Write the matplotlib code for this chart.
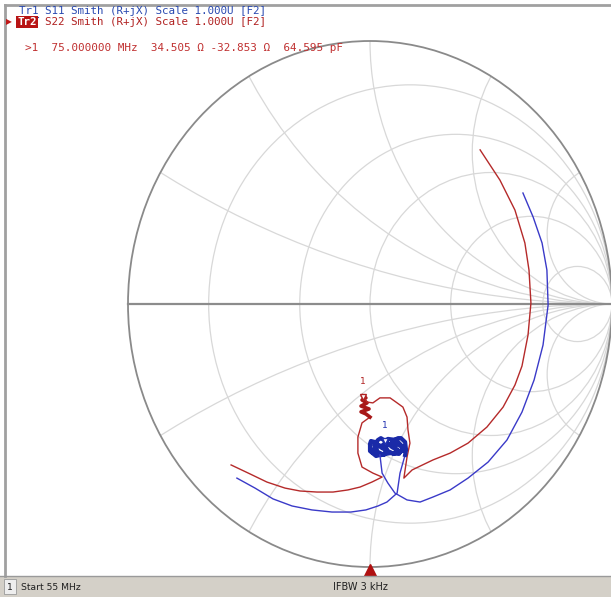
import matplotlib
matplotlib.use('Agg')
import matplotlib.pyplot as plt
from matplotlib.patches import Circle, Rectangle

# smith grid values
r_grid = [0.2, 0.55, 1, 2, 6]
x_grid = [0.268, 0.577, 1, 1.732, 3.732, -0.268, -0.577, -1, -1.732, -3.732]

# S22 trace (Tr2, red), reflection coefficient
red_re = [-0.574, -0.496, -0.426, -0.351, -0.289, -0.219, -0.153, -0.091, -0.041, 0.008, 0.050,
          0.012, -0.033, -0.050, -0.050, -0.033, 0.000]
red_im = [-0.612, -0.646, -0.677, -0.700, -0.711, -0.715, -0.715, -0.707, -0.696, -0.677, -0.658,
          -0.643, -0.620, -0.567, -0.506, -0.452, -0.430]
red_scr_re = [0.000, -0.017, -0.037, -0.004, -0.037, -0.012, -0.033, -0.017, -0.029]
red_scr_im = [-0.430, -0.418, -0.410, -0.399, -0.388, -0.376, -0.365, -0.357, -0.350]
red_out_re = [-0.029, -0.012, 0.012, 0.041, 0.083, 0.112, 0.136, 0.153, 0.157, 0.165, 0.153,
              0.145, 0.140, 0.174, 0.260, 0.331, 0.405, 0.483, 0.550, 0.599, 0.628, 0.653, 0.665,
              0.657, 0.640, 0.599, 0.537, 0.455]
red_out_im = [-0.350, -0.373, -0.376, -0.357, -0.357, -0.376, -0.392, -0.430, -0.479, -0.529,
              -0.582, -0.631, -0.662, -0.631, -0.593, -0.567, -0.529, -0.468, -0.392, -0.308,
              -0.236, -0.118, 0.004, 0.129, 0.232, 0.357, 0.471, 0.586]

# S11 trace (Tr1, blue)
blue_re = [-0.550, -0.475, -0.401, -0.322, -0.240, -0.157, -0.079, -0.017, 0.033, 0.070, 0.112,
           0.124, 0.145]
blue_im = [-0.662, -0.700, -0.741, -0.768, -0.783, -0.791, -0.791, -0.783, -0.768, -0.753, -0.719,
           -0.643, -0.574]
blob_re = [0.145, 0.149, 0.145, 0.128, 0.116, 0.091, 0.103, 0.124, 0.140, 0.132, 0.107, 0.074,
           0.058, 0.074, 0.099, 0.112, 0.091, 0.062, 0.045, 0.033, 0.017, 0.033, 0.058, 0.066,
           0.050, 0.021, 0.004, 0.000, 0.000, 0.025, 0.041, 0.083, 0.120, 0.136, 0.099, 0.058,
           0.021, 0.008, 0.041]
blob_im = [-0.574, -0.555, -0.525, -0.510, -0.510, -0.521, -0.548, -0.563, -0.555, -0.540,
           -0.517, -0.513, -0.532, -0.559, -0.570, -0.555, -0.544, -0.521, -0.510, -0.517,
           -0.536, -0.563, -0.574, -0.555, -0.548, -0.525, -0.521, -0.532, -0.559, -0.578,
           -0.574, -0.567, -0.570, -0.544, -0.529, -0.536, -0.544, -0.563, -0.574]
blue_out_re = [0.041, 0.050, 0.074, 0.103, 0.153, 0.207, 0.260, 0.331, 0.405, 0.488, 0.566,
               0.628, 0.678, 0.715, 0.736, 0.731, 0.711, 0.674, 0.632]
blue_out_im = [-0.574, -0.643, -0.681, -0.719, -0.745, -0.753, -0.734, -0.707, -0.662, -0.601,
               -0.517, -0.411, -0.289, -0.156, -0.004, 0.129, 0.232, 0.331, 0.422]

# marker 1 at 75 MHz
mk_red = (-0.029, -0.350)
mk_blue = (0.062, -0.517)

header1 = "Tr1 S11 Smith (R+jX) Scale 1.000U [F2]"
header2 = "S22 Smith (R+jX) Scale 1.000U [F2]"
readout = ">1  75.000000 MHz  34.505 \u03a9 -32.853 \u03a9  64.595 pF"

W, H = 611, 597
fig = plt.figure(figsize=(W / 100, H / 100), dpi=100)
fig.patch.set_facecolor('white')

# chart area: circle spans x 128..612, y 41..567 (pixels)
ax = fig.add_axes([128 / W, (H - 567) / H, 484 / W, 526 / H])
ax.set_xlim(-1, 1)
ax.set_ylim(-1, 1)
ax.axis('off')

unit = Circle((0, 0), 1, transform=ax.transData)
for r in r_grid:
    c = Circle((r / (1 + r), 0), 1 / (1 + r), fill=False, ec='#d8d8d8', lw=0.9)
    ax.add_patch(c)
    c.set_clip_path(unit)
for x in x_grid:
    c = Circle((1, 1 / x), 1 / abs(x), fill=False, ec='#d8d8d8', lw=0.9)
    ax.add_patch(c)
    c.set_clip_path(unit)

ax.add_patch(Circle((0, 0), 1, fill=False, ec='#8a8a8a', lw=1.3, clip_on=False))
ax.plot([-1, 1], [0, 0], color='#8c8c8c', lw=1.6, clip_on=False)

red_c = '#b52a2a'
blue_c = '#3a3ac8'
ax.plot(red_re, red_im, color=red_c, lw=1.0)
ax.plot(red_scr_re, red_scr_im, color='#a81818', lw=2.6)
ax.plot(red_out_re, red_out_im, color=red_c, lw=1.0)
ax.plot(blue_re, blue_im, color=blue_c, lw=1.0)
ax.plot(blob_re, blob_im, color='#1a2aa8', lw=3.0)
ax.plot(blue_out_re, blue_out_im, color=blue_c, lw=1.0)

for (mx, my), col in [(mk_red, '#b02020'), (mk_blue, '#2030b0')]:
    ax.plot(mx, my - 0.005, marker='v', ms=5, mfc='white', mec=col, mew=1.0)
    ax.annotate('1', (mx, my), xytext=(0, 7), textcoords='offset points',
                ha='center', va='bottom', color=col, fontsize=6.5)

# stimulus indicator at the bottom of the chart
ax.plot(0, -1.02, marker='^', ms=11, color='#b01010', clip_on=False)

# window frame
fig.add_artist(plt.Line2D([5 / W, 1], [1 - 5 / H, 1 - 5 / H], color='#a0a0a0', lw=2,
                          transform=fig.transFigure))
fig.add_artist(plt.Line2D([5 / W, 5 / W], [21 / H, 1 - 5 / H], color='#a0a0a0', lw=2,
                          transform=fig.transFigure))

# status bar
fig.add_artist(Rectangle((0, 0), 1, 21 / H, transform=fig.transFigure,
                         facecolor='#d4d0c8', edgecolor='none'))
fig.add_artist(plt.Line2D([0, 1], [21 / H, 21 / H], color='#9a9a9a', lw=1,
                          transform=fig.transFigure))
fig.add_artist(Rectangle((4 / W, 3 / H), 12 / W, 15 / H, transform=fig.transFigure,
                         facecolor='#eeeeee', edgecolor='#9a9a9a', lw=0.6))
fig.text(10 / W, 10 / H, '1', fontsize=6.7, ha='center', va='center', color='#202020')
fig.text(21 / W, 10 / H, 'Start 55 MHz', fontsize=6.7, ha='left', va='center', color='#202020')
fig.text(360 / W, 10 / H, 'IFBW 3 kHz', fontsize=7, ha='center', va='center', color='#202020')

# trace header
mono = 'DejaVu Sans Mono'
fig.text(19 / W, 1 - 11 / H, header1, family=mono, fontsize=7.8, color='#2848b0',
         ha='left', va='center')
fig.add_artist(plt.Line2D([19 / W, 38 / W], [1 - 17 / H, 1 - 17 / H], color='#2848b0', lw=0.8,
                          transform=fig.transFigure))
fig.text(9 / W, 1 - 22 / H, '\u25b6', fontsize=5.5, color='#c01818', ha='center', va='center')
fig.text(17 / W, 1 - 22 / H, 'Tr2', family=mono, fontsize=7.8, color='white',
         ha='left', va='center', weight='bold',
         bbox=dict(boxstyle='square,pad=0.1', fc='#b81414', ec='none'))
fig.text(45 / W, 1 - 22 / H, header2, family=mono, fontsize=7.8, color='#b02020',
         ha='left', va='center')
fig.text(25 / W, 1 - 48 / H, readout, family=mono, fontsize=7.9, color='#c03030',
         ha='left', va='center')

fig.savefig('out.png', dpi=100)
